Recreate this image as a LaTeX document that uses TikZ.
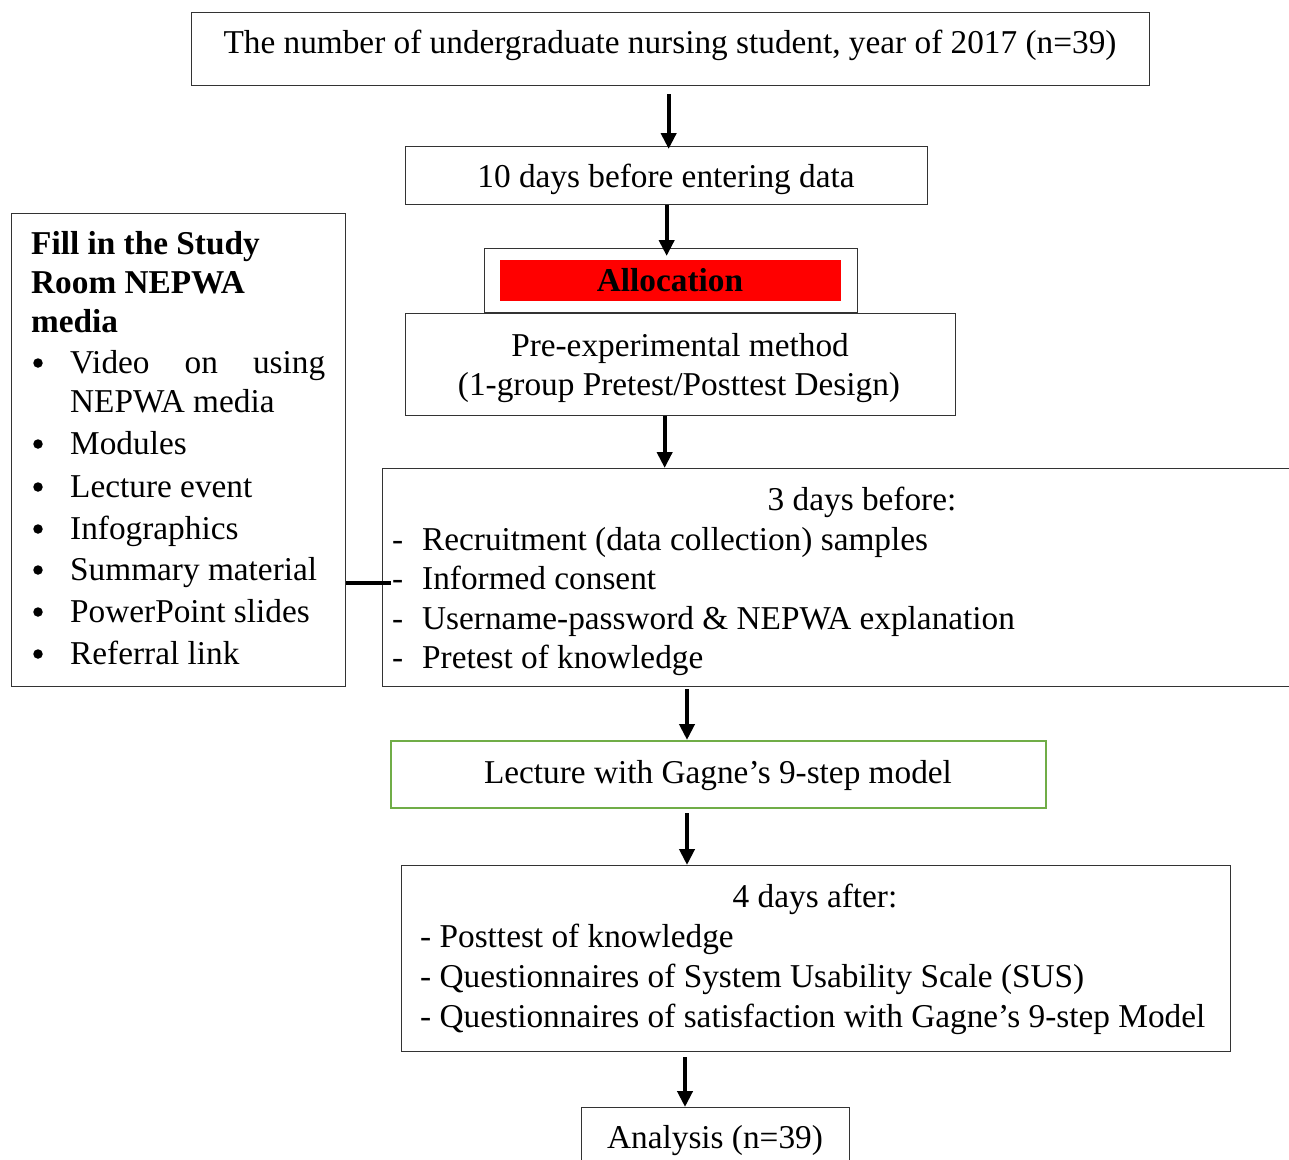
\documentclass[tikz,border=0pt]{standalone}
\usepackage{fontspec}
\setmainfont{Liberation Serif}
\usetikzlibrary{arrows.meta}
\definecolor{boxgreen}{HTML}{70AD47}
\definecolor{boxline}{HTML}{333333}
\newcommand{\mainsz}{\fontsize{33.3}{40}\selectfont}
\begin{document}
\begin{tikzpicture}[x=1pt,y=-1pt,
  font=\mainsz,
  box/.style={draw=boxline, line width=1.3pt, inner sep=0pt, anchor=north west},
  txt/.style={inner sep=0pt, text height=0.7em, text depth=0.25em, yshift=-8.5pt},
  lt/.style={txt, anchor=west},
  bold/.style={font=\mainsz\bfseries},
  bul/.style={circle, fill=black, inner sep=0pt, minimum size=9.5pt},
  arr/.style={line width=4pt, -{Triangle[length=16pt,width=15pt]}}]
\useasboundingbox (0,0) rectangle (1289,1159);
\clip (0,0) rectangle (1289,1159);
% boxes
\node[box, minimum width=958pt, minimum height=73pt] (top) at (191,12) {};
\node[box, minimum width=522pt, minimum height=58pt] (ten) at (405,146) {};
\node[box, minimum width=373pt, minimum height=64pt] (alloc) at (484,248) {};
\node[anchor=north west, fill=red, inner sep=0pt, minimum width=341pt, minimum height=41pt] (redbar) at (500,260) {};
\node[box, minimum width=550pt, minimum height=102pt] (pre) at (405,313) {};
\node[box, minimum width=930pt, minimum height=218pt] (three) at (382,468) {};
\node[box, minimum width=334pt, minimum height=473pt] (left) at (11,213) {};
\node[box, draw=boxgreen, line width=2pt, minimum width=655pt, minimum height=67pt] (lect) at (390,740) {};
\node[box, minimum width=829pt, minimum height=186pt] (four) at (401,865) {};
\node[box, minimum width=268pt, minimum height=70pt] (ana) at (581,1107) {};
% texts
\node[txt] (ttop) at (670,43) {The number of undergraduate nursing student, year of 2017 (n=39)};
\node[txt] (tten) at (666,177) {10 days before entering data};
\node[txt, bold] (talloc) at (670,281) {Allocation};
\node[txt] (tpre1) at (680,346) {Pre-experimental method};
\node[txt] (tpre2) at (679,385) {(1-group Pretest/Posttest Design)};
\node[txt] (tthree) at (862,500) {3 days before:};
\foreach \yy/\tt [count=\i] in {540/Recruitment (data collection) samples,579/Informed consent,619/Username-password \& NEPWA explanation,658/Pretest of knowledge}{
  \node[lt] (dash\i) at (392,\yy) {-};
  \node[lt] (item\i) at (422,\yy) {\tt};
}
\node[txt] (tlect) at (718,773) {Lecture with Gagne’s 9-step model};
\node[txt] (tfour) at (815,897) {4 days after:};
\node[lt] (f1) at (420,937) {- Posttest of knowledge};
\node[lt] (f2) at (420,977) {- Questionnaires of System Usability Scale (SUS)};
\node[lt] (f3) at (420,1017) {- Questionnaires of satisfaction with Gagne’s 9-step Model};
\node[txt] (tana) at (715,1138) {Analysis (n=39)};
% left box
\node[lt, bold] (h1) at (31,244) {Fill in the Study};
\node[lt, bold] (h2) at (31,283) {Room NEPWA};
\node[lt, bold] (h3) at (31,322) {media};
\node[lt] (b1) at (70,363) {\makebox[255pt][s]{Video on using}};
\node[lt] (b1b) at (70,402) {NEPWA media};
\foreach \yy/\tt [count=\i] in {363/,444/Modules,487/Lecture event,529/Infographics,570/Summary material,612/PowerPoint slides,654/Referral link}{
  \node[bul] (bul\i) at (38,\yy) {};
  \node[lt] (bt\i) at (70,\yy) {\tt};
}
% connector
\coordinate (cj) at (391,583);
\draw[line width=3.5pt] (left.east |- cj) -- (cj);
% arrows
\draw[arr] ([xshift=-2pt,yshift=-8pt]top.south) -- ([xshift=-2pt,yshift=-3pt]top.south |- ten.north);
\draw[arr] (ten.south) -- ([yshift=-8pt]ten.south |- alloc.north);
\draw[arr] ([xshift=-16pt]pre.south) -- ([xshift=-16pt]pre.south |- three.north);
\draw[arr] ([yshift=-2pt]three.south -| 687,0) -- (lect.north -| 687,0);
\draw[arr] ([yshift=-4pt]lect.south -| 687,0) -- (four.north -| 687,0);
\draw[arr] ([yshift=-5pt]four.south -| 685,0) -- (ana.north -| 685,0);
\end{tikzpicture}
\end{document}
